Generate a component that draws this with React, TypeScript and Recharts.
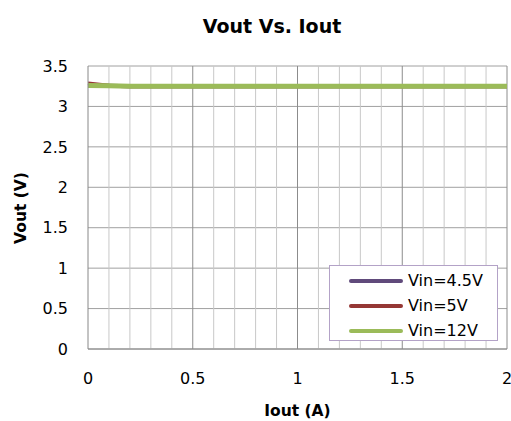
import React from "react";
import { LineChart, Line, XAxis, YAxis, CartesianGrid, ReferenceLine, Legend } from "recharts";

const iout = [0, 0.1, 0.2, 0.3, 0.4, 0.5, 0.6, 0.7, 0.8, 0.9, 1.0, 1.1, 1.2, 1.3, 1.4, 1.5, 1.6, 1.7, 1.8, 1.9, 2.0];
const vin45 = [3.26, 3.255, 3.25, 3.25, 3.25, 3.25, 3.25, 3.25, 3.25, 3.25, 3.25, 3.25, 3.25, 3.25, 3.25, 3.25, 3.25, 3.25, 3.25, 3.25, 3.25];
const vin5 = [3.285, 3.255, 3.25, 3.25, 3.25, 3.25, 3.25, 3.25, 3.25, 3.25, 3.25, 3.25, 3.25, 3.25, 3.25, 3.25, 3.25, 3.25, 3.25, 3.25, 3.25];
const vin12 = [3.26, 3.255, 3.25, 3.25, 3.25, 3.25, 3.25, 3.25, 3.25, 3.25, 3.25, 3.25, 3.25, 3.25, 3.25, 3.25, 3.25, 3.25, 3.25, 3.25, 3.25];
const xTicks = [0, 0.5, 1, 1.5, 2];
const yTicks = [0, 0.5, 1, 1.5, 2, 2.5, 3, 3.5];
const minorX = [0.1, 0.2, 0.3, 0.4, 0.6, 0.7, 0.8, 0.9, 1.1, 1.2, 1.3, 1.4, 1.6, 1.7, 1.8, 1.9];
const majorX = [0.5, 1, 1.5, 2];
const seriesNames = ["Vin=4.5V", "Vin=5V", "Vin=12V"];
const seriesColors = ["#604a7b", "#953735", "#9bbb59"];
const title = "Vout Vs. Iout";
const xTitle = "Iout (A)";
const yTitle = "Vout (V)";

const data = iout.map((x, i) => ({ x, a: vin45[i], b: vin5[i], c: vin12[i] }));

const FONT = "'DejaVu Sans', sans-serif";

const LegendContent = () => {
  return (
    <div>
      {seriesNames.map((name, i) => (
        <div key={name} style={{ display: "flex", alignItems: "center", height: 25 }}>
          <div style={{ width: 19 }} />
          <div style={{ width: 54, height: 4, borderRadius: 2, background: seriesColors[i] }} />
          <span style={{ marginLeft: 5, fontFamily: FONT, fontSize: 16, color: "#000", lineHeight: "20px" }}>{name}</span>
        </div>
      ))}
    </div>
  );
};

export default function App() {
  return (
    <div style={{ position: "absolute", left: 0, top: 0, width: 511, height: 421, background: "#fff" }}>
      <LineChart width={511} height={421} data={data} margin={{ top: 66, right: 4, bottom: 42, left: 28 }}>
        <CartesianGrid vertical={false} stroke="#a0a0a0" strokeWidth={1} />
        {minorX.map((v) => (
          <ReferenceLine key={"m" + v} x={v} stroke="#c8c8c8" strokeWidth={1} ifOverflow="visible" />
        ))}
        {majorX.map((v) => (
          <ReferenceLine key={"M" + v} x={v} stroke="#8c8c8c" strokeWidth={1} ifOverflow="visible" />
        ))}
        <XAxis
          dataKey="x"
          type="number"
          domain={[0, 2]}
          ticks={xTicks}
          height={30}
          tickLine={false}
          tickSize={0}
          tickMargin={24}
          axisLine={{ stroke: "#888888" }}
          tick={{ fill: "#000", fontFamily: FONT, fontSize: 16 }}
          interval={0}
        />
        <YAxis
          type="number"
          domain={[0, 3.5]}
          ticks={yTicks}
          width={60}
          tickLine={false}
          tickSize={0}
          tickMargin={20}
          axisLine={{ stroke: "#888888" }}
          tick={{ fill: "#000", fontFamily: FONT, fontSize: 16 }}
          interval={0}
        />
        <Line dataKey="a" name={seriesNames[0]} stroke={seriesColors[0]} strokeWidth={4} dot={false} isAnimationActive={false} />
        <Line dataKey="b" name={seriesNames[1]} stroke={seriesColors[1]} strokeWidth={4} dot={false} isAnimationActive={false} />
        <Line dataKey="c" name={seriesNames[2]} stroke={seriesColors[2]} strokeWidth={5} dot={false} isAnimationActive={false} />
        <Legend
          layout="horizontal"
          verticalAlign="middle"
          align="center"
          content={<LegendContent />}
          wrapperStyle={{ position: "absolute", left: 329, top: 265, width: 169, height: 76, border: "1px solid #b3a2c7", background: "#fff", boxSizing: "border-box", paddingTop: 2 }}
        />
      </LineChart>
      <div style={{ position: "absolute", left: 172, width: 200, top: 15, textAlign: "center", fontFamily: FONT, fontWeight: "bold", fontSize: 19, lineHeight: "22px" }}>
        {title}
      </div>
      <div style={{ position: "absolute", left: 88, width: 419, top: 401, textAlign: "center", fontFamily: FONT, fontWeight: "bold", fontSize: 15.5, lineHeight: "20px" }}>
        {xTitle}
      </div>
      <div style={{ position: "absolute", left: 21 - 60, width: 120, top: 208 - 11, textAlign: "center", fontFamily: FONT, fontWeight: "bold", fontSize: 15.5, lineHeight: "22px", transform: "rotate(-90deg)" }}>
        {yTitle}
      </div>
    </div>
  );
}
